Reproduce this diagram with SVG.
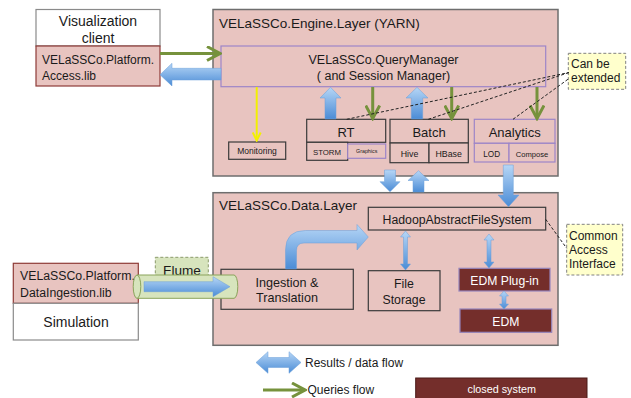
<svg xmlns="http://www.w3.org/2000/svg" width="631" height="398" viewBox="0 0 631 398">
<defs>
<linearGradient id="blue" x1="0" y1="0" x2="0" y2="1"><stop offset="0" stop-color="#b6d6f6"/><stop offset="1" stop-color="#4b8cd6"/></linearGradient>
<marker id="gHead" viewBox="0 0 16 16" refX="14" refY="8" markerWidth="16" markerHeight="16" markerUnits="userSpaceOnUse" orient="auto"><path d="M1,1 L14,8 L1,15" fill="none" stroke="#76923c" stroke-width="3"/></marker>
<marker id="yHead" viewBox="0 0 10 10" refX="9" refY="5" markerWidth="10" markerHeight="10" markerUnits="userSpaceOnUse" orient="auto"><path d="M1,1 L9,5 L1,9" fill="none" stroke="#f2f000" stroke-width="2"/></marker>
<style>
.layer{fill:#e8c4c0;stroke:#6e6e6e;stroke-width:1.5}
.box{fill:#e8c4c0;stroke:#3a3a3a;stroke-width:1.2}
.pbox{fill:#e8c4c0;stroke:#9d85c8;stroke-width:1.2}
.lib{fill:#e8c4c0;stroke:#8e3b37;stroke-width:1.2}
.white{fill:#fff;stroke:#8a8a8a;stroke-width:1.2}
.closed{fill:#742e2b;stroke:#9484bc;stroke-width:1.2}
.note{fill:#ffffcc;stroke:#808080;stroke-width:1;stroke-dasharray:3 2}
.t{font-family:"Liberation Sans",Arial,sans-serif;fill:#1a1a1a}
.c{text-anchor:middle}
.w{fill:#fff}
.q{fill:none;stroke:#76923c;stroke-width:3;marker-end:url(#gHead)}
.ba{fill:url(#blue);stroke:#6a9fd8;stroke-width:0.5}
.dash{fill:none;stroke:#222;stroke-width:1;stroke-dasharray:3 2}
</style>
</defs>

<g id="engine-layer">
<rect class="layer" x="213" y="9.5" width="345" height="166.5"/>
<text class="t" x="219" y="28" font-size="13.5">VELaSSCo.Engine.Layer (YARN)</text>
</g>
<g id="data-layer">
<rect class="layer" x="213" y="192.7" width="345" height="152.6"/>
<text class="t" x="219" y="210" font-size="13.5">VELaSSCo.Data.Layer</text>
</g>

<g id="visualization-client">
<rect class="white" x="36" y="9.5" width="124" height="36.5"/>
<rect class="lib" x="36" y="46" width="124" height="40"/>
<text class="t c" x="98" y="26" font-size="14">Visualization</text>
<text class="t c" x="98" y="43" font-size="14">client</text>
<text class="t" x="42" y="64" font-size="12">VELaSSCo.Platform.</text>
<text class="t" x="42" y="80" font-size="12">Access.lib</text>
</g>

<g id="query-manager">
<rect class="pbox" x="221" y="46" width="324.7" height="40.7"/>
<text class="t c" x="383.5" y="64" font-size="12.5">VELaSSCo.QueryManager</text>
<text class="t c" x="383.5" y="80" font-size="12.5">( and Session Manager)</text>
</g>

<g id="monitoring">
<rect class="box" x="228.7" y="142" width="57" height="17.3"/>
<text class="t c" x="257" y="154" font-size="8.5">Monitoring</text>
</g>

<g id="rt">
<rect class="box" x="306.7" y="119.3" width="79" height="23"/>
<text class="t c" x="346" y="137" font-size="13">RT</text>
<rect class="box" x="306.7" y="142.3" width="41" height="18"/>
<text class="t c" x="327" y="155" font-size="7.8">STORM</text>
<rect class="pbox" x="347.7" y="144" width="38" height="14.3"/>
<text class="t c" x="366.7" y="153.3" font-size="5.3">Graphics</text>
</g>

<g id="batch">
<rect class="box" x="390" y="119.3" width="78.3" height="23.7"/>
<text class="t c" x="429" y="137" font-size="13">Batch</text>
<rect class="box" x="390" y="143" width="39" height="19.7"/>
<text class="t c" x="409.5" y="157" font-size="8.8">Hive</text>
<rect class="box" x="429" y="143" width="39.3" height="19.7"/>
<text class="t c" x="448.7" y="157" font-size="8.8">HBase</text>
</g>

<g id="analytics">
<rect class="pbox" x="474.3" y="119.3" width="80.7" height="24"/>
<text class="t c" x="514.7" y="137" font-size="13">Analytics</text>
<rect class="pbox" x="474.3" y="143.3" width="34.7" height="18.7"/>
<text class="t c" x="491.7" y="156.5" font-size="8.2">LOD</text>
<rect class="pbox" x="509" y="143.3" width="46" height="18.7"/>
<text class="t c" x="532" y="156.5" font-size="7.6">Compose</text>
</g>

<g id="can-be-extended">
<rect class="note" x="568.3" y="53.3" width="57.4" height="36"/>
<text class="t" x="571" y="68" font-size="12">Can be</text>
<text class="t" x="571" y="82" font-size="12">extended</text>
</g>

<g id="hadoop-fs">
<rect class="box" x="368.3" y="207.3" width="177.4" height="22.7"/>
<text class="t c" x="457" y="224" font-size="12.3">HadoopAbstractFileSystem</text>
</g>

<g id="ingestion">
<rect class="box" x="221" y="269.3" width="132.3" height="40"/>
<text class="t c" x="287" y="286.5" font-size="12.6">Ingestion &amp;</text>
<text class="t c" x="287" y="302" font-size="12.6">Translation</text>
</g>

<g id="file-storage">
<rect class="box" x="368.3" y="270.7" width="71.7" height="40"/>
<text class="t c" x="404" y="288" font-size="12.3">File</text>
<text class="t c" x="404" y="304" font-size="12.3">Storage</text>
</g>

<g id="edm-plugin">
<rect class="closed" x="459" y="268.3" width="91" height="22.7"/>
<text class="t c w" x="504.5" y="285" font-size="12.2">EDM Plug-in</text>
</g>

<g id="edm">
<rect class="closed" x="460" y="309" width="91.7" height="23.3"/>
<text class="t c w" x="505.8" y="325.5" font-size="12.2">EDM</text>
</g>

<g id="common-access-interface">
<rect class="note" x="566.7" y="224.3" width="56" height="50.7"/>
<text class="t" x="569" y="240" font-size="12">Common</text>
<text class="t" x="569" y="254" font-size="12">Access</text>
<text class="t" x="569" y="268" font-size="12">Interface</text>
</g>

<g id="data-ingestion">
<rect class="lib" x="13.3" y="263.3" width="125" height="40"/>
<rect class="white" x="13.3" y="303.3" width="125" height="36.7"/>
<text class="t" x="20" y="280" font-size="12.3">VELaSSCo.Platform.</text>
<text class="t" x="20" y="296.5" font-size="12.3">DataIngestion.lib</text>
<text class="t c" x="76" y="326.5" font-size="14">Simulation</text>
</g>

<g id="flume">
<rect x="155.3" y="257.3" width="53" height="25" fill="#d7e4bd" stroke="#8a9a6a" stroke-width="1" stroke-dasharray="3 2"/>
<text class="t c" x="182" y="275" font-size="13.6">Flume</text>
</g>

<g id="legend-closed-system">
<rect x="415.7" y="378" width="171.3" height="24" fill="#742e2b" stroke="#4a1a18" stroke-width="1"/>
<text class="t c w" x="501.7" y="393" font-size="10.8">closed system</text>
</g>

<g id="connectors">
<!-- queries flow (green) -->
<line class="q" x1="160" y1="53.5" x2="220" y2="53.5"/>
<line class="q" x1="372.7" y1="87" x2="372.7" y2="118.5"/>
<line class="q" x1="451.7" y1="87" x2="451.7" y2="118.5"/>
<line class="q" x1="537" y1="87" x2="537" y2="118.5"/>
<!-- monitoring (yellow) -->
<line x1="256.7" y1="87" x2="256.7" y2="140.5" stroke="#f2f000" stroke-width="2" marker-end="url(#yHead)"/>
<!-- results flow (blue) -->
<polygon class="ba" points="160,74.7 172,63.3 172,68.3 221,68.3 221,80 172,80 172,86"/>
<polygon class="ba" points="330.5,87.3 341,98 336,98 336,119 325,119 325,98 320,98"/>
<polygon class="ba" points="417,87.3 428,98 422.7,98 422.7,119 411.3,119 411.3,98 406,98"/>
<polygon class="ba" points="384.5,170 395.5,170 395.5,181.7 400,181.7 390,191.7 380,181.7 384.5,181.7"/>
<polygon class="ba" points="418.5,170.7 429,180.5 424,180.5 424,192 413,192 413,180.5 408,180.5"/>
<polygon class="ba" points="503.3,165 513.3,165 513.3,195 519,195 508.5,206.7 498,195 503.3,195"/>
<path class="ba" d="M285.5,269 L285.5,250 Q285.5,230.5 305.5,230.5 L357,230.5 L357,224.5 L368.3,237 L357,250 L357,243 L304,243 Q296.5,243 296.5,250.5 L296.5,269 Z"/>
<polygon class="ba" points="405.5,231 410.5,237 407.5,237 407.5,264 410.5,264 405.5,270 400.5,264 403.5,264 403.5,237 400.5,237"/>
<polygon class="ba" points="489,234 494,240 491,240 491,262 494,262 489,268 484,262 487,262 487,240 484,240"/>
<polygon class="ba" points="504,291 508.5,296 506,296 506,304 508.5,304 504,309 499.5,304 502,304 502,296 499.5,296"/>
<!-- notes -->
<line class="dash" x1="346.7" y1="119.3" x2="569" y2="72.5"/>
<line class="dash" x1="428.3" y1="119.3" x2="569" y2="72.5"/>
<line class="dash" x1="513" y1="119.3" x2="568.3" y2="79"/>
<line class="dash" x1="545.7" y1="219.3" x2="566.7" y2="248.3"/>
<!-- flume pipe -->
<path d="M137,275 L234,275 A3.8,11.65 0 0 1 234,298.3 L137,298.3 Z" fill="#d7e4bd" stroke="#8aa35a" stroke-width="1"/>
<ellipse cx="137" cy="286.65" rx="3.8" ry="11.65" fill="#d7e4bd" stroke="#8aa35a" stroke-width="1"/>
<polygon class="ba" points="144,281.7 213,281.7 213,276.7 230,286.7 213,296.7 213,291.7 144,291.7"/>
<!-- legend -->
<polygon class="ba" points="256,362.5 268,351.7 268,357.5 289,357.5 289,351.7 301,362.5 289,373.3 289,367.5 268,367.5 268,373.3"/>
<line class="q" x1="263" y1="390" x2="305" y2="390"/>
</g>
<g id="legend-text">
<text class="t" x="305" y="367" font-size="12">Results / data flow</text>
<text class="t" x="307.5" y="394" font-size="12">Queries flow</text>
</g>
</svg>
